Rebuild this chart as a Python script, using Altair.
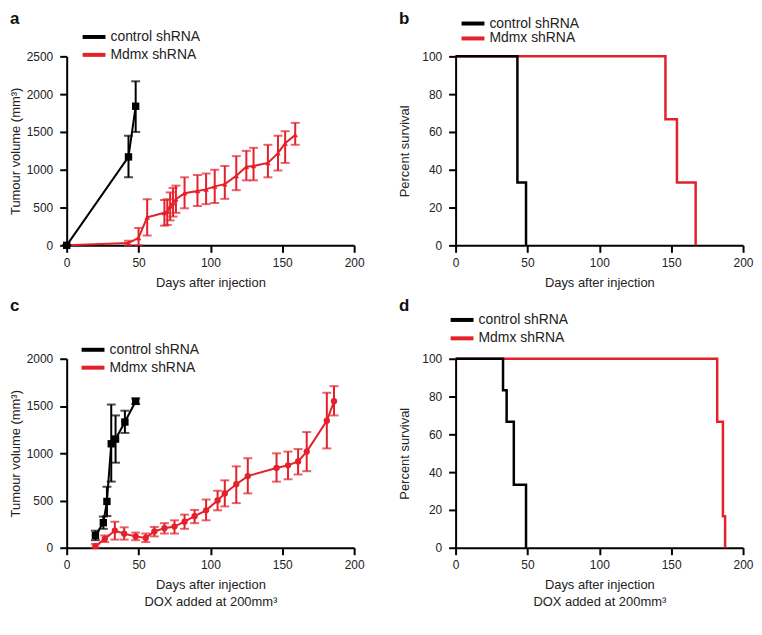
import altair as alt
import pandas as pd

RED = "#e4202a"
BLACK = "#000000"
FONT = "Liberation Sans"
GROUPS = ["control shRNA", "Mdmx shRNA"]
COLORS = [BLACK, RED]
X_TICKS = [0, 50, 100, 150, 200]

# ---- panel a: tumour volume ----
a_ctrl_day = [0, 43, 48]
a_ctrl_vol = [0, 1170, 1840]
a_ctrl_lo = [0, 900, 1500]
a_ctrl_hi = [0, 1450, 2170]

a_mdmx_day = [0, 43, 50, 56, 68, 70, 72, 74, 76, 82, 91, 97, 103, 110, 118, 125, 130, 140, 147, 152, 159]
a_mdmx_vol = [0, 30, 100, 370, 430, 450, 520, 560, 610, 690, 720, 740, 780, 810, 920, 1040, 1050, 1090, 1220, 1350, 1460]
a_mdmx_lo = [0, 0, 0, 130, 260, 270, 330, 380, 430, 490, 520, 545, 560, 615, 730, 860, 860, 900, 990, 1090, 1330]
a_mdmx_hi = [0, 60, 230, 610, 600, 610, 700, 760, 790, 900, 930, 950, 1000, 1050, 1180, 1250, 1290, 1330, 1450, 1510, 1620]

# ---- panel b: survival ----
b_ctrl_day = [0, 43, 49]
b_ctrl_pct = [100, 33.3, 0]
b_mdmx_day = [0, 146, 154, 167]
b_mdmx_pct = [100, 66.7, 33.3, 0]

# ---- panel c: tumour volume (DOX) ----
c_ctrl_day = [20, 25.5, 28, 31, 34, 40.5, 48]
c_ctrl_vol = [130, 265, 490, 1100, 1150, 1330, 1550]
c_ctrl_lo = [80, 200, 335, 700, 900, 1215, 1520]
c_ctrl_hi = [180, 330, 645, 1515, 1400, 1450, 1580]

c_mdmx_day = [20, 26.5, 33.5, 40, 48, 55, 61, 68, 75, 82, 89, 97, 105, 110, 118, 126, 146, 154, 161, 167, 181, 186]
c_mdmx_vol = [17, 93, 182, 148, 120, 103, 172, 207, 224, 275, 334, 396, 500, 575, 672, 758, 844, 872, 913, 1017, 1344, 1550]
c_mdmx_lo = [0, 60, 86, 86, 80, 60, 120, 150, 150, 200, 260, 290, 396, 437, 472, 575, 699, 724, 775, 810, 1051, 1400]
c_mdmx_hi = [40, 130, 275, 216, 160, 150, 220, 260, 290, 350, 400, 510, 603, 713, 861, 947, 999, 1017, 1044, 1224, 1640, 1710]

# ---- panel d: survival (DOX) ----
d_ctrl_day = [0, 33, 35.5, 40.5, 49]
d_ctrl_pct = [100, 83.3, 66.7, 33.3, 0]
d_mdmx_day = [0, 182, 186, 187.5]
d_mdmx_pct = [100, 66.7, 16.7, 0]

W, H = 289, 190
LINE_SYMBOL = "M-2.3,0H2.3"


def color_enc(lx, ly, rowpad):
    return alt.Color(
        "group:N",
        scale=alt.Scale(domain=GROUPS, range=COLORS),
        legend=alt.Legend(
            title=None, orient="none", legendX=lx, legendY=ly, direction="vertical",
            symbolType=LINE_SYMBOL, symbolStrokeWidth=4, symbolSize=100,
            labelFontSize=14, labelFont=FONT, labelColor="#222",
            rowPadding=rowpad, labelOffset=9.5, padding=0,
        ),
    )


def panel_title(letter, dy):
    return alt.TitleParams(text=letter, anchor="start", fontSize=17, fontWeight="bold",
                           font=FONT, color="#111", offset=4, dy=dy)


def x_enc(title):
    return alt.X("day:Q", scale=alt.Scale(domain=[0, 200], nice=False),
                 axis=alt.Axis(values=X_TICKS, title=title))


def tumour(letter, tdy, ctrl, mdmx, mshape, msize, ymax, x_title, lx, ly, rowpad):
    cd = pd.DataFrame({"day": ctrl[0], "vol": ctrl[1], "lo": ctrl[2], "hi": ctrl[3], "group": GROUPS[0]})
    md = pd.DataFrame({"day": mdmx[0], "vol": mdmx[1], "lo": mdmx[2], "hi": mdmx[3], "group": GROUPS[1]})
    both = pd.concat([md, cd], ignore_index=True)
    x = x_enc(x_title)
    ysc = alt.Scale(domain=[0, ymax], nice=False)
    yax = alt.Axis(values=list(range(0, ymax + 1, 500)), title="Tumour volume (mm³)", format="d")

    def y(field):
        return alt.Y(field + ":Q", scale=ysc, axis=yax)

    layers = [alt.Chart(both).mark_line(strokeWidth=2).encode(x=x, y=y("vol"), color=color_enc(lx, ly, rowpad))]
    for df, col, shape, size in [(md, RED, mshape, msize), (cd, BLACK, "square", 55)]:
        base = alt.Chart(df)
        layers.append(base.mark_rule(color=col, strokeWidth=2).encode(x=x, y=y("lo"), y2="hi:Q"))
        layers.append(base.mark_tick(color=col, orient="horizontal", size=9, thickness=2).encode(x=x, y=y("lo")))
        layers.append(base.mark_tick(color=col, orient="horizontal", size=9, thickness=2).encode(x=x, y=y("hi")))
        layers.append(base.mark_point(filled=True, shape=shape, size=size, color=col, opacity=1).encode(x=x, y=y("vol")))
    return alt.layer(*layers).properties(width=W, height=H, title=panel_title(letter, tdy))


def survival(letter, tdy, ctrl, mdmx, x_title, lx, ly, rowpad):
    cd = pd.DataFrame({"day": ctrl[0], "pct": ctrl[1], "group": GROUPS[0]})
    md = pd.DataFrame({"day": mdmx[0], "pct": mdmx[1], "group": GROUPS[1]})
    x = x_enc(x_title)
    y = alt.Y("pct:Q", scale=alt.Scale(domain=[0, 100], nice=False),
              axis=alt.Axis(values=[0, 20, 40, 60, 80, 100], title="Percent survival"))
    col = color_enc(lx, ly, rowpad)
    red = alt.Chart(md).mark_line(strokeWidth=2.5, interpolate="step-after").encode(x=x, y=y, color=col)
    blk = alt.Chart(cd).mark_line(strokeWidth=2.5, interpolate="step-after").encode(x=x, y=y, color=col)
    return alt.layer(red, blk).properties(width=W, height=H, title=panel_title(letter, tdy))


DOX_TITLE = ["Days after injection", "DOX added at 200mm³"]

pa = tumour("a", 2, (a_ctrl_day, a_ctrl_vol, a_ctrl_lo, a_ctrl_hi),
            (a_mdmx_day, a_mdmx_vol, a_mdmx_lo, a_mdmx_hi), "triangle-up", 30, 2500,
            "Days after injection", 20.5, -26.5, 2)
pb = survival("b", 15.5, (b_ctrl_day, b_ctrl_pct), (b_mdmx_day, b_mdmx_pct),
              "Days after injection", 10.5, -40, -1)
pc = tumour("c", -23.5, (c_ctrl_day, c_ctrl_vol, c_ctrl_lo, c_ctrl_hi),
            (c_mdmx_day, c_mdmx_vol, c_mdmx_lo, c_mdmx_hi), "circle", 40, 2000,
            DOX_TITLE, 19.5, -16, 2)
pd_ = survival("d", 6.5, (d_ctrl_day, d_ctrl_pct), (d_mdmx_day, d_mdmx_pct),
               DOX_TITLE, -0.5, -46, 2.5)

chart = alt.concat(pa, pb, pc, pd_, columns=2, spacing={"row": 114, "column": 102}, bounds="flush",
                   padding={"left": 2, "top": 0, "right": 0, "bottom": 0})
chart = chart.resolve_scale(color="independent", x="independent", y="independent").resolve_legend(color="independent")
chart = chart.configure_view(stroke=None).configure_axis(
    domainWidth=2, domainColor="black", tickWidth=2, tickColor="black", tickSize=7,
    labelFontSize=12, labelFont=FONT, labelColor="#222", labelFlush=False, labelOverlap=False,
    titleFont=FONT, titleFontSize=13, titleFontWeight="normal", titleColor="#222", grid=False,
).configure_axisX(labelPadding=5, titlePadding=8, titleLineHeight=17).configure_axisY(
    labelPadding=7, titlePadding=4, minExtent=40, maxExtent=40)

chart.save("out.html", embed_options={"renderer": "svg", "actions": False})
